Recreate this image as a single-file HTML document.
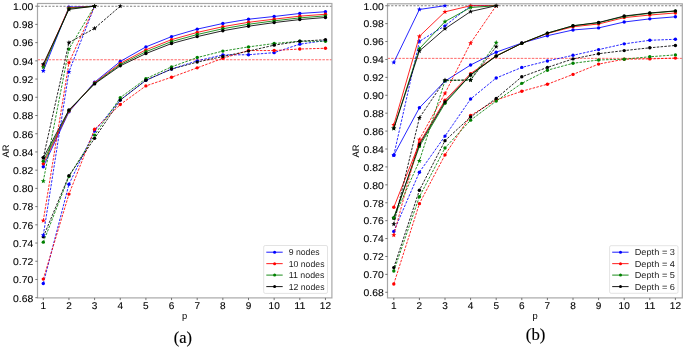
<!DOCTYPE html>
<html><head><meta charset="utf-8"><style>
html,body{margin:0;padding:0;background:#fff;}
body{width:685px;height:348px;overflow:hidden;}
svg{display:block;will-change:transform;}
.tk{font-family:"Liberation Sans",sans-serif;font-size:9.8px;fill:#000;stroke:#000;stroke-width:0.1px;text-rendering:geometricPrecision;}
.lab{font-family:"Liberation Sans",sans-serif;font-size:9.4px;fill:#000;text-rendering:geometricPrecision;}
.lg{font-family:"Liberation Sans",sans-serif;font-size:8.7px;fill:#1c1c1c;text-rendering:geometricPrecision;}
.cap{font-family:"Liberation Serif",serif;font-size:15.5px;fill:#000;stroke:#000;stroke-width:0.15px;}
</style></head><body>
<svg width="685" height="348" viewBox="0 0 685 348">
<rect width="685" height="348" fill="#fff"/>
<line x1="37.50" y1="59.75" x2="331.90" y2="59.75" stroke="#ff0000" stroke-width="0.8" stroke-dasharray="2.5 1.2" opacity="0.75"/>
<line x1="37.50" y1="6.18" x2="331.90" y2="6.18" stroke="#808080" stroke-width="1.1" stroke-dasharray="2.2 1.5"/>
<polyline points="43.30,283.49 68.95,184.28 94.60,130.99 120.25,100.01 145.90,80.34 171.55,69.04 197.20,60.84 222.85,54.92 248.50,54.74 274.15,52.64 299.80,44.17 325.45,40.52" fill="none" stroke="#0000ff" stroke-width="0.85" stroke-dasharray="2.5 1.3" stroke-linejoin="round"/>
<circle cx="43.30" cy="283.49" r="1.70" fill="#0000ff"/>
<circle cx="68.95" cy="184.28" r="1.70" fill="#0000ff"/>
<circle cx="94.60" cy="130.99" r="1.70" fill="#0000ff"/>
<circle cx="120.25" cy="100.01" r="1.70" fill="#0000ff"/>
<circle cx="145.90" cy="80.34" r="1.70" fill="#0000ff"/>
<circle cx="171.55" cy="69.04" r="1.70" fill="#0000ff"/>
<circle cx="197.20" cy="60.84" r="1.70" fill="#0000ff"/>
<circle cx="222.85" cy="54.92" r="1.70" fill="#0000ff"/>
<circle cx="248.50" cy="54.74" r="1.70" fill="#0000ff"/>
<circle cx="274.15" cy="52.64" r="1.70" fill="#0000ff"/>
<circle cx="299.80" cy="44.17" r="1.70" fill="#0000ff"/>
<circle cx="325.45" cy="40.52" r="1.70" fill="#0000ff"/>
<polyline points="43.30,279.12 68.95,194.12 94.60,129.26 120.25,104.57 145.90,85.89 171.55,77.24 197.20,67.85 222.85,58.29 248.50,50.55 274.15,50.55 299.80,49.00 325.45,48.27" fill="none" stroke="#ff0000" stroke-width="0.85" stroke-dasharray="2.5 1.3" stroke-linejoin="round"/>
<circle cx="43.30" cy="279.12" r="1.70" fill="#ff0000"/>
<circle cx="68.95" cy="194.12" r="1.70" fill="#ff0000"/>
<circle cx="94.60" cy="129.26" r="1.70" fill="#ff0000"/>
<circle cx="120.25" cy="104.57" r="1.70" fill="#ff0000"/>
<circle cx="145.90" cy="85.89" r="1.70" fill="#ff0000"/>
<circle cx="171.55" cy="77.24" r="1.70" fill="#ff0000"/>
<circle cx="197.20" cy="67.85" r="1.70" fill="#ff0000"/>
<circle cx="222.85" cy="58.29" r="1.70" fill="#ff0000"/>
<circle cx="248.50" cy="50.55" r="1.70" fill="#ff0000"/>
<circle cx="274.15" cy="50.55" r="1.70" fill="#ff0000"/>
<circle cx="299.80" cy="49.00" r="1.70" fill="#ff0000"/>
<circle cx="325.45" cy="48.27" r="1.70" fill="#ff0000"/>
<polyline points="43.30,242.13 68.95,176.54 94.60,135.09 120.25,97.64 145.90,78.70 171.55,66.85 197.20,57.56 222.85,51.09 248.50,46.90 274.15,43.53 299.80,41.25 325.45,41.25" fill="none" stroke="#008000" stroke-width="0.85" stroke-dasharray="2.5 1.3" stroke-linejoin="round"/>
<circle cx="43.30" cy="242.13" r="1.70" fill="#008000"/>
<circle cx="68.95" cy="176.54" r="1.70" fill="#008000"/>
<circle cx="94.60" cy="135.09" r="1.70" fill="#008000"/>
<circle cx="120.25" cy="97.64" r="1.70" fill="#008000"/>
<circle cx="145.90" cy="78.70" r="1.70" fill="#008000"/>
<circle cx="171.55" cy="66.85" r="1.70" fill="#008000"/>
<circle cx="197.20" cy="57.56" r="1.70" fill="#008000"/>
<circle cx="222.85" cy="51.09" r="1.70" fill="#008000"/>
<circle cx="248.50" cy="46.90" r="1.70" fill="#008000"/>
<circle cx="274.15" cy="43.53" r="1.70" fill="#008000"/>
<circle cx="299.80" cy="41.25" r="1.70" fill="#008000"/>
<circle cx="325.45" cy="41.25" r="1.70" fill="#008000"/>
<polyline points="43.30,236.85 68.95,175.63 94.60,138.37 120.25,100.10 145.90,80.24 171.55,69.04 197.20,62.12 222.85,56.47 248.50,51.09 274.15,45.17 299.80,41.25 325.45,39.70" fill="none" stroke="#000000" stroke-width="0.85" stroke-dasharray="2.5 1.3" stroke-linejoin="round"/>
<circle cx="43.30" cy="236.85" r="1.70" fill="#000000"/>
<circle cx="68.95" cy="175.63" r="1.70" fill="#000000"/>
<circle cx="94.60" cy="138.37" r="1.70" fill="#000000"/>
<circle cx="120.25" cy="100.10" r="1.70" fill="#000000"/>
<circle cx="145.90" cy="80.24" r="1.70" fill="#000000"/>
<circle cx="171.55" cy="69.04" r="1.70" fill="#000000"/>
<circle cx="197.20" cy="62.12" r="1.70" fill="#000000"/>
<circle cx="222.85" cy="56.47" r="1.70" fill="#000000"/>
<circle cx="248.50" cy="51.09" r="1.70" fill="#000000"/>
<circle cx="274.15" cy="45.17" r="1.70" fill="#000000"/>
<circle cx="299.80" cy="41.25" r="1.70" fill="#000000"/>
<circle cx="325.45" cy="39.70" r="1.70" fill="#000000"/>
<polyline points="43.30,166.70 68.95,111.86 94.60,82.16 120.25,61.48 145.90,46.90 171.55,36.61 197.20,29.14 222.85,23.49 248.50,19.21 274.15,16.47 299.80,13.47 325.45,11.74" fill="none" stroke="#0000ff" stroke-width="0.85" stroke-linejoin="round"/>
<circle cx="43.30" cy="166.70" r="1.70" fill="#0000ff"/>
<circle cx="68.95" cy="111.86" r="1.70" fill="#0000ff"/>
<circle cx="94.60" cy="82.16" r="1.70" fill="#0000ff"/>
<circle cx="120.25" cy="61.48" r="1.70" fill="#0000ff"/>
<circle cx="145.90" cy="46.90" r="1.70" fill="#0000ff"/>
<circle cx="171.55" cy="36.61" r="1.70" fill="#0000ff"/>
<circle cx="197.20" cy="29.14" r="1.70" fill="#0000ff"/>
<circle cx="222.85" cy="23.49" r="1.70" fill="#0000ff"/>
<circle cx="248.50" cy="19.21" r="1.70" fill="#0000ff"/>
<circle cx="274.15" cy="16.47" r="1.70" fill="#0000ff"/>
<circle cx="299.80" cy="13.47" r="1.70" fill="#0000ff"/>
<circle cx="325.45" cy="11.74" r="1.70" fill="#0000ff"/>
<polyline points="43.30,163.78 68.95,111.01 94.60,82.92 120.25,63.40 145.90,49.83 171.55,39.65 197.20,32.42 222.85,26.70 248.50,22.29 274.15,19.16 299.80,16.15 325.45,14.26" fill="none" stroke="#ff0000" stroke-width="0.85" stroke-linejoin="round"/>
<circle cx="43.30" cy="163.78" r="1.70" fill="#ff0000"/>
<circle cx="68.95" cy="111.01" r="1.70" fill="#ff0000"/>
<circle cx="94.60" cy="82.92" r="1.70" fill="#ff0000"/>
<circle cx="120.25" cy="63.40" r="1.70" fill="#ff0000"/>
<circle cx="145.90" cy="49.83" r="1.70" fill="#ff0000"/>
<circle cx="171.55" cy="39.65" r="1.70" fill="#ff0000"/>
<circle cx="197.20" cy="32.42" r="1.70" fill="#ff0000"/>
<circle cx="222.85" cy="26.70" r="1.70" fill="#ff0000"/>
<circle cx="248.50" cy="22.29" r="1.70" fill="#ff0000"/>
<circle cx="274.15" cy="19.16" r="1.70" fill="#ff0000"/>
<circle cx="299.80" cy="16.15" r="1.70" fill="#ff0000"/>
<circle cx="325.45" cy="14.26" r="1.70" fill="#ff0000"/>
<polyline points="43.30,161.14 68.95,110.48 94.60,83.40 120.25,64.63 145.90,51.69 171.55,41.59 197.20,34.52 222.85,28.74 248.50,24.26 274.15,20.87 299.80,17.86 325.45,15.87" fill="none" stroke="#008000" stroke-width="0.85" stroke-linejoin="round"/>
<circle cx="43.30" cy="161.14" r="1.70" fill="#008000"/>
<circle cx="68.95" cy="110.48" r="1.70" fill="#008000"/>
<circle cx="94.60" cy="83.40" r="1.70" fill="#008000"/>
<circle cx="120.25" cy="64.63" r="1.70" fill="#008000"/>
<circle cx="145.90" cy="51.69" r="1.70" fill="#008000"/>
<circle cx="171.55" cy="41.59" r="1.70" fill="#008000"/>
<circle cx="197.20" cy="34.52" r="1.70" fill="#008000"/>
<circle cx="222.85" cy="28.74" r="1.70" fill="#008000"/>
<circle cx="248.50" cy="24.26" r="1.70" fill="#008000"/>
<circle cx="274.15" cy="20.87" r="1.70" fill="#008000"/>
<circle cx="299.80" cy="17.86" r="1.70" fill="#008000"/>
<circle cx="325.45" cy="15.87" r="1.70" fill="#008000"/>
<polyline points="43.30,157.68 68.95,109.94 94.60,83.89 120.25,65.85 145.90,53.55 171.55,43.53 197.20,36.61 222.85,30.78 248.50,26.22 274.15,22.58 299.80,19.57 325.45,17.48" fill="none" stroke="#000000" stroke-width="0.85" stroke-linejoin="round"/>
<circle cx="43.30" cy="157.68" r="1.70" fill="#000000"/>
<circle cx="68.95" cy="109.94" r="1.70" fill="#000000"/>
<circle cx="94.60" cy="83.89" r="1.70" fill="#000000"/>
<circle cx="120.25" cy="65.85" r="1.70" fill="#000000"/>
<circle cx="145.90" cy="53.55" r="1.70" fill="#000000"/>
<circle cx="171.55" cy="43.53" r="1.70" fill="#000000"/>
<circle cx="197.20" cy="36.61" r="1.70" fill="#000000"/>
<circle cx="222.85" cy="30.78" r="1.70" fill="#000000"/>
<circle cx="248.50" cy="26.22" r="1.70" fill="#000000"/>
<circle cx="274.15" cy="22.58" r="1.70" fill="#000000"/>
<circle cx="299.80" cy="19.57" r="1.70" fill="#000000"/>
<circle cx="325.45" cy="17.48" r="1.70" fill="#000000"/>
<polyline points="43.30,235.21 68.95,71.77 94.60,6.18" fill="none" stroke="#0000ff" stroke-width="0.85" stroke-dasharray="2.5 1.3" stroke-linejoin="round"/>
<polygon points="43.30,232.61 43.94,234.32 45.77,234.40 44.34,235.54 44.83,237.31 43.30,236.30 41.77,237.31 42.26,235.54 40.83,234.40 42.66,234.32" fill="#0000ff"/>
<polygon points="68.95,69.17 69.59,70.89 71.42,70.97 69.99,72.11 70.48,73.88 68.95,72.86 67.42,73.88 67.91,72.11 66.48,70.97 68.31,70.89" fill="#0000ff"/>
<polygon points="94.60,3.58 95.24,5.30 97.07,5.38 95.64,6.52 96.13,8.28 94.60,7.27 93.07,8.28 93.56,6.52 92.13,5.38 93.96,5.30" fill="#0000ff"/>
<polyline points="43.30,220.63 68.95,62.66 94.60,6.18" fill="none" stroke="#ff0000" stroke-width="0.85" stroke-dasharray="2.5 1.3" stroke-linejoin="round"/>
<polygon points="43.30,218.03 43.94,219.75 45.77,219.83 44.34,220.97 44.83,222.73 43.30,221.72 41.77,222.73 42.26,220.97 40.83,219.83 42.66,219.75" fill="#ff0000"/>
<polygon points="68.95,60.06 69.59,61.78 71.42,61.86 69.99,63.00 70.48,64.77 68.95,63.75 67.42,64.77 67.91,63.00 66.48,61.86 68.31,61.78" fill="#ff0000"/>
<polygon points="94.60,3.58 95.24,5.30 97.07,5.38 95.64,6.52 96.13,8.28 94.60,7.27 93.07,8.28 93.56,6.52 92.13,5.38 93.96,5.30" fill="#ff0000"/>
<polyline points="43.30,181.09 68.95,49.09 94.60,6.18" fill="none" stroke="#008000" stroke-width="0.85" stroke-dasharray="2.5 1.3" stroke-linejoin="round"/>
<polygon points="43.30,178.49 43.94,180.21 45.77,180.29 44.34,181.43 44.83,183.20 43.30,182.18 41.77,183.20 42.26,181.43 40.83,180.29 42.66,180.21" fill="#008000"/>
<polygon points="68.95,46.49 69.59,48.20 71.42,48.28 69.99,49.43 70.48,51.19 68.95,50.18 67.42,51.19 67.91,49.43 66.48,48.28 68.31,48.20" fill="#008000"/>
<polygon points="94.60,3.58 95.24,5.30 97.07,5.38 95.64,6.52 96.13,8.28 94.60,7.27 93.07,8.28 93.56,6.52 92.13,5.38 93.96,5.30" fill="#008000"/>
<polyline points="43.30,157.68 68.95,42.62 94.60,28.32 120.25,6.18" fill="none" stroke="#000000" stroke-width="0.85" stroke-dasharray="2.5 1.3" stroke-linejoin="round"/>
<polygon points="43.30,155.08 43.94,156.80 45.77,156.88 44.34,158.02 44.83,159.78 43.30,158.77 41.77,159.78 42.26,158.02 40.83,156.88 42.66,156.80" fill="#000000"/>
<polygon points="68.95,40.02 69.59,41.74 71.42,41.82 69.99,42.96 70.48,44.72 68.95,43.71 67.42,44.72 67.91,42.96 66.48,41.82 68.31,41.74" fill="#000000"/>
<polygon points="94.60,25.72 95.24,27.43 97.07,27.51 95.64,28.65 96.13,30.42 94.60,29.41 93.07,30.42 93.56,28.65 92.13,27.51 93.96,27.43" fill="#000000"/>
<polygon points="120.25,3.58 120.89,5.30 122.72,5.38 121.29,6.52 121.78,8.28 120.25,7.27 118.72,8.28 119.21,6.52 117.78,5.38 119.61,5.30" fill="#000000"/>
<polyline points="43.30,70.86 68.95,7.18 94.60,6.18" fill="none" stroke="#0000ff" stroke-width="0.85" stroke-linejoin="round"/>
<polygon points="43.30,68.26 43.94,69.98 45.77,70.06 44.34,71.20 44.83,72.96 43.30,71.95 41.77,72.96 42.26,71.20 40.83,70.06 42.66,69.98" fill="#0000ff"/>
<polygon points="68.95,4.58 69.59,6.30 71.42,6.38 69.99,7.52 70.48,9.29 68.95,8.27 67.42,9.29 67.91,7.52 66.48,6.38 68.31,6.30" fill="#0000ff"/>
<polygon points="94.60,3.58 95.24,5.30 97.07,5.38 95.64,6.52 96.13,8.28 94.60,7.27 93.07,8.28 93.56,6.52 92.13,5.38 93.96,5.30" fill="#0000ff"/>
<polyline points="43.30,65.39 68.95,7.82 94.60,6.18" fill="none" stroke="#ff0000" stroke-width="0.85" stroke-linejoin="round"/>
<polygon points="43.30,62.79 43.94,64.51 45.77,64.59 44.34,65.73 44.83,67.50 43.30,66.49 41.77,67.50 42.26,65.73 40.83,64.59 42.66,64.51" fill="#ff0000"/>
<polygon points="68.95,5.22 69.59,6.94 71.42,7.02 69.99,8.16 70.48,9.92 68.95,8.91 67.42,9.92 67.91,8.16 66.48,7.02 68.31,6.94" fill="#ff0000"/>
<polygon points="94.60,3.58 95.24,5.30 97.07,5.38 95.64,6.52 96.13,8.28 94.60,7.27 93.07,8.28 93.56,6.52 92.13,5.38 93.96,5.30" fill="#ff0000"/>
<polyline points="43.30,67.22 68.95,8.46 94.60,6.18" fill="none" stroke="#008000" stroke-width="0.85" stroke-linejoin="round"/>
<polygon points="43.30,64.62 43.94,66.33 45.77,66.41 44.34,67.55 44.83,69.32 43.30,68.31 41.77,69.32 42.26,67.55 40.83,66.41 42.66,66.33" fill="#008000"/>
<polygon points="68.95,5.86 69.59,7.57 71.42,7.65 69.99,8.79 70.48,10.56 68.95,9.55 67.42,10.56 67.91,8.79 66.48,7.65 68.31,7.57" fill="#008000"/>
<polygon points="94.60,3.58 95.24,5.30 97.07,5.38 95.64,6.52 96.13,8.28 94.60,7.27 93.07,8.28 93.56,6.52 92.13,5.38 93.96,5.30" fill="#008000"/>
<polyline points="43.30,64.03 68.95,9.37 94.60,6.18" fill="none" stroke="#000000" stroke-width="0.85" stroke-linejoin="round"/>
<polygon points="43.30,61.43 43.94,63.15 45.77,63.23 44.34,64.37 44.83,66.13 43.30,65.12 41.77,66.13 42.26,64.37 40.83,63.23 42.66,63.15" fill="#000000"/>
<polygon points="68.95,6.77 69.59,8.49 71.42,8.57 69.99,9.71 70.48,11.47 68.95,10.46 67.42,11.47 67.91,9.71 66.48,8.57 68.31,8.49" fill="#000000"/>
<polygon points="94.60,3.58 95.24,5.30 97.07,5.38 95.64,6.52 96.13,8.28 94.60,7.27 93.07,8.28 93.56,6.52 92.13,5.38 93.96,5.30" fill="#000000"/>
<rect x="37.50" y="3.50" width="294.40" height="294.40" fill="none" stroke="#a8a8a8" stroke-width="1.2"/>
<line x1="35.30" y1="297.70" x2="37.50" y2="297.70" stroke="#555" stroke-width="0.8"/>
<text x="33.30" y="301.50" text-anchor="end" class="tk" textLength="20.2" lengthAdjust="spacingAndGlyphs">0.68</text>
<line x1="35.30" y1="279.48" x2="37.50" y2="279.48" stroke="#555" stroke-width="0.8"/>
<text x="33.30" y="283.28" text-anchor="end" class="tk" textLength="20.2" lengthAdjust="spacingAndGlyphs">0.70</text>
<line x1="35.30" y1="261.26" x2="37.50" y2="261.26" stroke="#555" stroke-width="0.8"/>
<text x="33.30" y="265.06" text-anchor="end" class="tk" textLength="20.2" lengthAdjust="spacingAndGlyphs">0.72</text>
<line x1="35.30" y1="243.04" x2="37.50" y2="243.04" stroke="#555" stroke-width="0.8"/>
<text x="33.30" y="246.84" text-anchor="end" class="tk" textLength="20.2" lengthAdjust="spacingAndGlyphs">0.74</text>
<line x1="35.30" y1="224.82" x2="37.50" y2="224.82" stroke="#555" stroke-width="0.8"/>
<text x="33.30" y="228.62" text-anchor="end" class="tk" textLength="20.2" lengthAdjust="spacingAndGlyphs">0.76</text>
<line x1="35.30" y1="206.60" x2="37.50" y2="206.60" stroke="#555" stroke-width="0.8"/>
<text x="33.30" y="210.40" text-anchor="end" class="tk" textLength="20.2" lengthAdjust="spacingAndGlyphs">0.78</text>
<line x1="35.30" y1="188.38" x2="37.50" y2="188.38" stroke="#555" stroke-width="0.8"/>
<text x="33.30" y="192.18" text-anchor="end" class="tk" textLength="20.2" lengthAdjust="spacingAndGlyphs">0.80</text>
<line x1="35.30" y1="170.16" x2="37.50" y2="170.16" stroke="#555" stroke-width="0.8"/>
<text x="33.30" y="173.96" text-anchor="end" class="tk" textLength="20.2" lengthAdjust="spacingAndGlyphs">0.82</text>
<line x1="35.30" y1="151.94" x2="37.50" y2="151.94" stroke="#555" stroke-width="0.8"/>
<text x="33.30" y="155.74" text-anchor="end" class="tk" textLength="20.2" lengthAdjust="spacingAndGlyphs">0.84</text>
<line x1="35.30" y1="133.72" x2="37.50" y2="133.72" stroke="#555" stroke-width="0.8"/>
<text x="33.30" y="137.52" text-anchor="end" class="tk" textLength="20.2" lengthAdjust="spacingAndGlyphs">0.86</text>
<line x1="35.30" y1="115.50" x2="37.50" y2="115.50" stroke="#555" stroke-width="0.8"/>
<text x="33.30" y="119.30" text-anchor="end" class="tk" textLength="20.2" lengthAdjust="spacingAndGlyphs">0.88</text>
<line x1="35.30" y1="97.28" x2="37.50" y2="97.28" stroke="#555" stroke-width="0.8"/>
<text x="33.30" y="101.08" text-anchor="end" class="tk" textLength="20.2" lengthAdjust="spacingAndGlyphs">0.90</text>
<line x1="35.30" y1="79.06" x2="37.50" y2="79.06" stroke="#555" stroke-width="0.8"/>
<text x="33.30" y="82.86" text-anchor="end" class="tk" textLength="20.2" lengthAdjust="spacingAndGlyphs">0.92</text>
<line x1="35.30" y1="60.84" x2="37.50" y2="60.84" stroke="#555" stroke-width="0.8"/>
<text x="33.30" y="64.64" text-anchor="end" class="tk" textLength="20.2" lengthAdjust="spacingAndGlyphs">0.94</text>
<line x1="35.30" y1="42.62" x2="37.50" y2="42.62" stroke="#555" stroke-width="0.8"/>
<text x="33.30" y="46.42" text-anchor="end" class="tk" textLength="20.2" lengthAdjust="spacingAndGlyphs">0.96</text>
<line x1="35.30" y1="24.40" x2="37.50" y2="24.40" stroke="#555" stroke-width="0.8"/>
<text x="33.30" y="28.20" text-anchor="end" class="tk" textLength="20.2" lengthAdjust="spacingAndGlyphs">0.98</text>
<line x1="35.30" y1="6.18" x2="37.50" y2="6.18" stroke="#555" stroke-width="0.8"/>
<text x="33.30" y="9.98" text-anchor="end" class="tk" textLength="20.2" lengthAdjust="spacingAndGlyphs">1.00</text>
<line x1="43.30" y1="297.90" x2="43.30" y2="300.10" stroke="#555" stroke-width="0.8"/>
<text x="43.30" y="309.0" text-anchor="middle" class="tk" textLength="5.6" lengthAdjust="spacingAndGlyphs">1</text>
<line x1="68.95" y1="297.90" x2="68.95" y2="300.10" stroke="#555" stroke-width="0.8"/>
<text x="68.95" y="309.0" text-anchor="middle" class="tk" textLength="5.6" lengthAdjust="spacingAndGlyphs">2</text>
<line x1="94.60" y1="297.90" x2="94.60" y2="300.10" stroke="#555" stroke-width="0.8"/>
<text x="94.60" y="309.0" text-anchor="middle" class="tk" textLength="5.6" lengthAdjust="spacingAndGlyphs">3</text>
<line x1="120.25" y1="297.90" x2="120.25" y2="300.10" stroke="#555" stroke-width="0.8"/>
<text x="120.25" y="309.0" text-anchor="middle" class="tk" textLength="5.6" lengthAdjust="spacingAndGlyphs">4</text>
<line x1="145.90" y1="297.90" x2="145.90" y2="300.10" stroke="#555" stroke-width="0.8"/>
<text x="145.90" y="309.0" text-anchor="middle" class="tk" textLength="5.6" lengthAdjust="spacingAndGlyphs">5</text>
<line x1="171.55" y1="297.90" x2="171.55" y2="300.10" stroke="#555" stroke-width="0.8"/>
<text x="171.55" y="309.0" text-anchor="middle" class="tk" textLength="5.6" lengthAdjust="spacingAndGlyphs">6</text>
<line x1="197.20" y1="297.90" x2="197.20" y2="300.10" stroke="#555" stroke-width="0.8"/>
<text x="197.20" y="309.0" text-anchor="middle" class="tk" textLength="5.6" lengthAdjust="spacingAndGlyphs">7</text>
<line x1="222.85" y1="297.90" x2="222.85" y2="300.10" stroke="#555" stroke-width="0.8"/>
<text x="222.85" y="309.0" text-anchor="middle" class="tk" textLength="5.6" lengthAdjust="spacingAndGlyphs">8</text>
<line x1="248.50" y1="297.90" x2="248.50" y2="300.10" stroke="#555" stroke-width="0.8"/>
<text x="248.50" y="309.0" text-anchor="middle" class="tk" textLength="5.6" lengthAdjust="spacingAndGlyphs">9</text>
<line x1="274.15" y1="297.90" x2="274.15" y2="300.10" stroke="#555" stroke-width="0.8"/>
<text x="274.15" y="309.0" text-anchor="middle" class="tk" textLength="11.2" lengthAdjust="spacingAndGlyphs">10</text>
<line x1="299.80" y1="297.90" x2="299.80" y2="300.10" stroke="#555" stroke-width="0.8"/>
<text x="299.80" y="309.0" text-anchor="middle" class="tk" textLength="11.2" lengthAdjust="spacingAndGlyphs">11</text>
<line x1="325.45" y1="297.90" x2="325.45" y2="300.10" stroke="#555" stroke-width="0.8"/>
<text x="325.45" y="309.0" text-anchor="middle" class="tk" textLength="11.2" lengthAdjust="spacingAndGlyphs">12</text>
<text x="184.70" y="319.0" text-anchor="middle" class="lab">p</text>
<text transform="translate(9.00,151) rotate(-90)" text-anchor="middle" class="lab">AR</text>
<text x="182.90" y="342.50" text-anchor="middle" class="cap" style="font-size:16.40px">(a)</text>
<rect x="263.70" y="245.50" width="63.80" height="47.90" rx="1.5" fill="#fff" fill-opacity="0.85" stroke="#dcdcdc" stroke-width="0.8"/>
<line x1="266.30" y1="252.20" x2="282.70" y2="252.20" stroke="#0000ff" stroke-width="0.9"/>
<circle cx="274.60" cy="252.20" r="1.50" fill="#0000ff"/>
<text x="288.70" y="255.20" class="lg" textLength="30.9" lengthAdjust="spacingAndGlyphs">9 nodes</text>
<line x1="266.30" y1="263.65" x2="282.70" y2="263.65" stroke="#ff0000" stroke-width="0.9"/>
<circle cx="274.60" cy="263.65" r="1.50" fill="#ff0000"/>
<text x="288.70" y="266.65" class="lg" textLength="35.8" lengthAdjust="spacingAndGlyphs">10 nodes</text>
<line x1="266.30" y1="275.10" x2="282.70" y2="275.10" stroke="#008000" stroke-width="0.9"/>
<circle cx="274.60" cy="275.10" r="1.50" fill="#008000"/>
<text x="288.70" y="278.10" class="lg" textLength="35.8" lengthAdjust="spacingAndGlyphs">11 nodes</text>
<line x1="266.30" y1="286.60" x2="282.70" y2="286.60" stroke="#000000" stroke-width="0.9"/>
<circle cx="274.60" cy="286.60" r="1.50" fill="#000000"/>
<text x="288.70" y="289.60" class="lg" textLength="35.8" lengthAdjust="spacingAndGlyphs">12 nodes</text>
<line x1="387.50" y1="58.37" x2="682.30" y2="58.37" stroke="#ff0000" stroke-width="0.8" stroke-dasharray="2.5 1.2" opacity="0.75"/>
<line x1="387.50" y1="5.71" x2="682.30" y2="5.71" stroke="#808080" stroke-width="1.1" stroke-dasharray="2.2 1.5"/>
<polyline points="393.80,231.40 419.40,172.20 445.00,136.11 470.60,99.03 496.20,77.98 521.80,67.41 547.40,60.97 573.00,55.32 598.60,49.59 624.20,43.86 649.80,40.28 675.40,39.29" fill="none" stroke="#0000ff" stroke-width="0.85" stroke-dasharray="2.5 1.3" stroke-linejoin="round"/>
<circle cx="393.80" cy="231.40" r="1.70" fill="#0000ff"/>
<circle cx="419.40" cy="172.20" r="1.70" fill="#0000ff"/>
<circle cx="445.00" cy="136.11" r="1.70" fill="#0000ff"/>
<circle cx="470.60" cy="99.03" r="1.70" fill="#0000ff"/>
<circle cx="496.20" cy="77.98" r="1.70" fill="#0000ff"/>
<circle cx="521.80" cy="67.41" r="1.70" fill="#0000ff"/>
<circle cx="547.40" cy="60.97" r="1.70" fill="#0000ff"/>
<circle cx="573.00" cy="55.32" r="1.70" fill="#0000ff"/>
<circle cx="598.60" cy="49.59" r="1.70" fill="#0000ff"/>
<circle cx="624.20" cy="43.86" r="1.70" fill="#0000ff"/>
<circle cx="649.80" cy="40.28" r="1.70" fill="#0000ff"/>
<circle cx="675.40" cy="39.29" r="1.70" fill="#0000ff"/>
<polyline points="393.80,283.97 419.40,203.64 445.00,154.91 470.60,115.51 496.20,100.01 521.80,91.24 547.40,84.25 573.00,74.40 598.60,64.10 624.20,59.18 649.80,58.91 675.40,58.10" fill="none" stroke="#ff0000" stroke-width="0.85" stroke-dasharray="2.5 1.3" stroke-linejoin="round"/>
<circle cx="393.80" cy="283.97" r="1.70" fill="#ff0000"/>
<circle cx="419.40" cy="203.64" r="1.70" fill="#ff0000"/>
<circle cx="445.00" cy="154.91" r="1.70" fill="#ff0000"/>
<circle cx="470.60" cy="115.51" r="1.70" fill="#ff0000"/>
<circle cx="496.20" cy="100.01" r="1.70" fill="#ff0000"/>
<circle cx="521.80" cy="91.24" r="1.70" fill="#ff0000"/>
<circle cx="547.40" cy="84.25" r="1.70" fill="#ff0000"/>
<circle cx="573.00" cy="74.40" r="1.70" fill="#ff0000"/>
<circle cx="598.60" cy="64.10" r="1.70" fill="#ff0000"/>
<circle cx="624.20" cy="59.18" r="1.70" fill="#ff0000"/>
<circle cx="649.80" cy="58.91" r="1.70" fill="#ff0000"/>
<circle cx="675.40" cy="58.10" r="1.70" fill="#ff0000"/>
<polyline points="393.80,270.98 419.40,196.74 445.00,148.02 470.60,120.17 496.20,101.09 521.80,83.36 547.40,70.19 573.00,63.30 598.60,59.98 624.20,59.18 649.80,56.76 675.40,54.88" fill="none" stroke="#008000" stroke-width="0.85" stroke-dasharray="2.5 1.3" stroke-linejoin="round"/>
<circle cx="393.80" cy="270.98" r="1.70" fill="#008000"/>
<circle cx="419.40" cy="196.74" r="1.70" fill="#008000"/>
<circle cx="445.00" cy="148.02" r="1.70" fill="#008000"/>
<circle cx="470.60" cy="120.17" r="1.70" fill="#008000"/>
<circle cx="496.20" cy="101.09" r="1.70" fill="#008000"/>
<circle cx="521.80" cy="83.36" r="1.70" fill="#008000"/>
<circle cx="547.40" cy="70.19" r="1.70" fill="#008000"/>
<circle cx="573.00" cy="63.30" r="1.70" fill="#008000"/>
<circle cx="598.60" cy="59.98" r="1.70" fill="#008000"/>
<circle cx="624.20" cy="59.18" r="1.70" fill="#008000"/>
<circle cx="649.80" cy="56.76" r="1.70" fill="#008000"/>
<circle cx="675.40" cy="54.88" r="1.70" fill="#008000"/>
<polyline points="393.80,267.58 419.40,190.29 445.00,140.67 470.60,117.03 496.20,98.40 521.80,76.73 547.40,67.41 573.00,58.91 598.60,53.71 624.20,50.58 649.80,47.80 675.40,45.47" fill="none" stroke="#000000" stroke-width="0.85" stroke-dasharray="2.5 1.3" stroke-linejoin="round"/>
<circle cx="393.80" cy="267.58" r="1.70" fill="#000000"/>
<circle cx="419.40" cy="190.29" r="1.70" fill="#000000"/>
<circle cx="445.00" cy="140.67" r="1.70" fill="#000000"/>
<circle cx="470.60" cy="117.03" r="1.70" fill="#000000"/>
<circle cx="496.20" cy="98.40" r="1.70" fill="#000000"/>
<circle cx="521.80" cy="76.73" r="1.70" fill="#000000"/>
<circle cx="547.40" cy="67.41" r="1.70" fill="#000000"/>
<circle cx="573.00" cy="58.91" r="1.70" fill="#000000"/>
<circle cx="598.60" cy="53.71" r="1.70" fill="#000000"/>
<circle cx="624.20" cy="50.58" r="1.70" fill="#000000"/>
<circle cx="649.80" cy="47.80" r="1.70" fill="#000000"/>
<circle cx="675.40" cy="45.47" r="1.70" fill="#000000"/>
<polyline points="393.80,155.18 419.40,107.81 445.00,81.12 470.60,65.00 496.20,52.19 521.80,43.05 547.40,35.71 573.00,29.98 598.60,27.92 624.20,22.01 649.80,18.87 675.40,16.81" fill="none" stroke="#0000ff" stroke-width="0.85" stroke-linejoin="round"/>
<circle cx="393.80" cy="155.18" r="1.70" fill="#0000ff"/>
<circle cx="419.40" cy="107.81" r="1.70" fill="#0000ff"/>
<circle cx="445.00" cy="81.12" r="1.70" fill="#0000ff"/>
<circle cx="470.60" cy="65.00" r="1.70" fill="#0000ff"/>
<circle cx="496.20" cy="52.19" r="1.70" fill="#0000ff"/>
<circle cx="521.80" cy="43.05" r="1.70" fill="#0000ff"/>
<circle cx="547.40" cy="35.71" r="1.70" fill="#0000ff"/>
<circle cx="573.00" cy="29.98" r="1.70" fill="#0000ff"/>
<circle cx="598.60" cy="27.92" r="1.70" fill="#0000ff"/>
<circle cx="624.20" cy="22.01" r="1.70" fill="#0000ff"/>
<circle cx="649.80" cy="18.87" r="1.70" fill="#0000ff"/>
<circle cx="675.40" cy="16.81" r="1.70" fill="#0000ff"/>
<polyline points="393.80,207.31 419.40,143.00 445.00,100.28 470.60,73.59 496.20,55.86 521.80,43.32 547.40,33.47 573.00,26.75 598.60,23.98 624.20,17.62 649.80,15.02 675.40,12.96" fill="none" stroke="#ff0000" stroke-width="0.85" stroke-linejoin="round"/>
<circle cx="393.80" cy="207.31" r="1.70" fill="#ff0000"/>
<circle cx="419.40" cy="143.00" r="1.70" fill="#ff0000"/>
<circle cx="445.00" cy="100.28" r="1.70" fill="#ff0000"/>
<circle cx="470.60" cy="73.59" r="1.70" fill="#ff0000"/>
<circle cx="496.20" cy="55.86" r="1.70" fill="#ff0000"/>
<circle cx="521.80" cy="43.32" r="1.70" fill="#ff0000"/>
<circle cx="547.40" cy="33.47" r="1.70" fill="#ff0000"/>
<circle cx="573.00" cy="26.75" r="1.70" fill="#ff0000"/>
<circle cx="598.60" cy="23.98" r="1.70" fill="#ff0000"/>
<circle cx="624.20" cy="17.62" r="1.70" fill="#ff0000"/>
<circle cx="649.80" cy="15.02" r="1.70" fill="#ff0000"/>
<circle cx="675.40" cy="12.96" r="1.70" fill="#ff0000"/>
<polyline points="393.80,217.97 419.40,146.41 445.00,103.33 470.60,74.94 496.20,55.86 521.80,43.32 547.40,33.11 573.00,25.77 598.60,22.72 624.20,16.46 649.80,13.32 675.40,11.08" fill="none" stroke="#008000" stroke-width="0.85" stroke-linejoin="round"/>
<circle cx="393.80" cy="217.97" r="1.70" fill="#008000"/>
<circle cx="419.40" cy="146.41" r="1.70" fill="#008000"/>
<circle cx="445.00" cy="103.33" r="1.70" fill="#008000"/>
<circle cx="470.60" cy="74.94" r="1.70" fill="#008000"/>
<circle cx="496.20" cy="55.86" r="1.70" fill="#008000"/>
<circle cx="521.80" cy="43.32" r="1.70" fill="#008000"/>
<circle cx="547.40" cy="33.11" r="1.70" fill="#008000"/>
<circle cx="573.00" cy="25.77" r="1.70" fill="#008000"/>
<circle cx="598.60" cy="22.72" r="1.70" fill="#008000"/>
<circle cx="624.20" cy="16.46" r="1.70" fill="#008000"/>
<circle cx="649.80" cy="13.32" r="1.70" fill="#008000"/>
<circle cx="675.40" cy="11.08" r="1.70" fill="#008000"/>
<polyline points="393.80,217.97 419.40,144.53 445.00,101.90 470.60,74.94 496.20,56.13 521.80,43.32 547.40,33.11 573.00,25.77 598.60,22.46 624.20,16.01 649.80,12.96 675.40,10.90" fill="none" stroke="#000000" stroke-width="0.85" stroke-linejoin="round"/>
<circle cx="393.80" cy="217.97" r="1.70" fill="#000000"/>
<circle cx="419.40" cy="144.53" r="1.70" fill="#000000"/>
<circle cx="445.00" cy="101.90" r="1.70" fill="#000000"/>
<circle cx="470.60" cy="74.94" r="1.70" fill="#000000"/>
<circle cx="496.20" cy="56.13" r="1.70" fill="#000000"/>
<circle cx="521.80" cy="43.32" r="1.70" fill="#000000"/>
<circle cx="547.40" cy="33.11" r="1.70" fill="#000000"/>
<circle cx="573.00" cy="25.77" r="1.70" fill="#000000"/>
<circle cx="598.60" cy="22.46" r="1.70" fill="#000000"/>
<circle cx="624.20" cy="16.01" r="1.70" fill="#000000"/>
<circle cx="649.80" cy="12.96" r="1.70" fill="#000000"/>
<circle cx="675.40" cy="10.90" r="1.70" fill="#000000"/>
<polyline points="393.80,155.18 419.40,41.35 445.00,25.77 470.60,5.71 496.20,5.71" fill="none" stroke="#0000ff" stroke-width="0.85" stroke-dasharray="2.5 1.3" stroke-linejoin="round"/>
<polygon points="393.80,152.58 394.44,154.30 396.27,154.38 394.84,155.52 395.33,157.29 393.80,156.28 392.27,157.29 392.76,155.52 391.33,154.38 393.16,154.30" fill="#0000ff"/>
<polygon points="419.40,38.75 420.04,40.47 421.87,40.55 420.44,41.69 420.93,43.46 419.40,42.44 417.87,43.46 418.36,41.69 416.93,40.55 418.76,40.47" fill="#0000ff"/>
<polygon points="445.00,23.17 445.64,24.89 447.47,24.97 446.04,26.11 446.53,27.87 445.00,26.86 443.47,27.87 443.96,26.11 442.53,24.97 444.36,24.89" fill="#0000ff"/>
<polygon points="470.60,3.11 471.24,4.82 473.07,4.90 471.64,6.05 472.13,7.81 470.60,6.80 469.07,7.81 469.56,6.05 468.13,4.90 469.96,4.82" fill="#0000ff"/>
<polygon points="496.20,3.11 496.84,4.82 498.67,4.90 497.24,6.05 497.73,7.81 496.20,6.80 494.67,7.81 495.16,6.05 493.73,4.90 495.56,4.82" fill="#0000ff"/>
<polyline points="393.80,235.16 419.40,139.51 445.00,93.30 470.60,43.05 496.20,5.71" fill="none" stroke="#ff0000" stroke-width="0.85" stroke-dasharray="2.5 1.3" stroke-linejoin="round"/>
<polygon points="393.80,232.56 394.44,234.28 396.27,234.36 394.84,235.50 395.33,237.26 393.80,236.25 392.27,237.26 392.76,235.50 391.33,234.36 393.16,234.28" fill="#ff0000"/>
<polygon points="419.40,136.91 420.04,138.63 421.87,138.71 420.44,139.85 420.93,141.61 419.40,140.60 417.87,141.61 418.36,139.85 416.93,138.71 418.76,138.63" fill="#ff0000"/>
<polygon points="445.00,90.70 445.64,92.41 447.47,92.49 446.04,93.64 446.53,95.40 445.00,94.39 443.47,95.40 443.96,93.64 442.53,92.49 444.36,92.41" fill="#ff0000"/>
<polygon points="470.60,40.45 471.24,42.17 473.07,42.25 471.64,43.39 472.13,45.16 470.60,44.15 469.07,45.16 469.56,43.39 468.13,42.25 469.96,42.17" fill="#ff0000"/>
<polygon points="496.20,3.11 496.84,4.82 498.67,4.90 497.24,6.05 497.73,7.81 496.20,6.80 494.67,7.81 495.16,6.05 493.73,4.90 495.56,4.82" fill="#ff0000"/>
<polyline points="393.80,217.97 419.40,160.92 445.00,80.76 470.60,79.86 496.20,42.70" fill="none" stroke="#008000" stroke-width="0.85" stroke-dasharray="2.5 1.3" stroke-linejoin="round"/>
<polygon points="393.80,215.37 394.44,217.08 396.27,217.16 394.84,218.30 395.33,220.07 393.80,219.06 392.27,220.07 392.76,218.30 391.33,217.16 393.16,217.08" fill="#008000"/>
<polygon points="419.40,158.32 420.04,160.03 421.87,160.11 420.44,161.25 420.93,163.02 419.40,162.01 417.87,163.02 418.36,161.25 416.93,160.11 418.76,160.03" fill="#008000"/>
<polygon points="445.00,78.16 445.64,79.88 447.47,79.96 446.04,81.10 446.53,82.86 445.00,81.85 443.47,82.86 443.96,81.10 442.53,79.96 444.36,79.88" fill="#008000"/>
<polygon points="470.60,77.26 471.24,78.98 473.07,79.06 471.64,80.20 472.13,81.97 470.60,80.96 469.07,81.97 469.56,80.20 468.13,79.06 469.96,78.98" fill="#008000"/>
<polygon points="496.20,40.10 496.84,41.81 498.67,41.89 497.24,43.03 497.73,44.80 496.20,43.79 494.67,44.80 495.16,43.03 493.73,41.89 495.56,41.81" fill="#008000"/>
<polyline points="393.80,224.06 419.40,117.84 445.00,80.13 470.60,80.13 496.20,46.55" fill="none" stroke="#000000" stroke-width="0.85" stroke-dasharray="2.5 1.3" stroke-linejoin="round"/>
<polygon points="393.80,221.46 394.44,223.17 396.27,223.25 394.84,224.39 395.33,226.16 393.80,225.15 392.27,226.16 392.76,224.39 391.33,223.25 393.16,223.17" fill="#000000"/>
<polygon points="419.40,115.24 420.04,116.95 421.87,117.03 420.44,118.17 420.93,119.94 419.40,118.93 417.87,119.94 418.36,118.17 416.93,117.03 418.76,116.95" fill="#000000"/>
<polygon points="445.00,77.53 445.64,79.25 447.47,79.33 446.04,80.47 446.53,82.24 445.00,81.22 443.47,82.24 443.96,80.47 442.53,79.33 444.36,79.25" fill="#000000"/>
<polygon points="470.60,77.53 471.24,79.25 473.07,79.33 471.64,80.47 472.13,82.24 470.60,81.22 469.07,82.24 469.56,80.47 468.13,79.33 469.96,79.25" fill="#000000"/>
<polygon points="496.20,43.95 496.84,45.66 498.67,45.74 497.24,46.88 497.73,48.65 496.20,47.64 494.67,48.65 495.16,46.88 493.73,45.74 495.56,45.66" fill="#000000"/>
<polyline points="393.80,62.49 419.40,9.47 445.00,5.71" fill="none" stroke="#0000ff" stroke-width="0.85" stroke-linejoin="round"/>
<polygon points="393.80,59.89 394.44,61.61 396.27,61.69 394.84,62.83 395.33,64.59 393.80,63.58 392.27,64.59 392.76,62.83 391.33,61.69 393.16,61.61" fill="#0000ff"/>
<polygon points="419.40,6.87 420.04,8.59 421.87,8.67 420.44,9.81 420.93,11.57 419.40,10.56 417.87,11.57 418.36,9.81 416.93,8.67 418.76,8.59" fill="#0000ff"/>
<polygon points="445.00,3.11 445.64,4.82 447.47,4.90 446.04,6.05 446.53,7.81 445.00,6.80 443.47,7.81 443.96,6.05 442.53,4.90 444.36,4.82" fill="#0000ff"/>
<polyline points="393.80,125.00 419.40,36.34 445.00,11.80 470.60,5.71 496.20,5.71" fill="none" stroke="#ff0000" stroke-width="0.85" stroke-linejoin="round"/>
<polygon points="393.80,122.40 394.44,124.12 396.27,124.20 394.84,125.34 395.33,127.11 393.80,126.09 392.27,127.11 392.76,125.34 391.33,124.20 393.16,124.12" fill="#ff0000"/>
<polygon points="419.40,33.74 420.04,35.45 421.87,35.53 420.44,36.67 420.93,38.44 419.40,37.43 417.87,38.44 418.36,36.67 416.93,35.53 418.76,35.45" fill="#ff0000"/>
<polygon points="445.00,9.20 445.64,10.91 447.47,10.99 446.04,12.14 446.53,13.90 445.00,12.89 443.47,13.90 443.96,12.14 442.53,10.99 444.36,10.91" fill="#ff0000"/>
<polygon points="470.60,3.11 471.24,4.82 473.07,4.90 471.64,6.05 472.13,7.81 470.60,6.80 469.07,7.81 469.56,6.05 468.13,4.90 469.96,4.82" fill="#ff0000"/>
<polygon points="496.20,3.11 496.84,4.82 498.67,4.90 497.24,6.05 497.73,7.81 496.20,6.80 494.67,7.81 495.16,6.05 493.73,4.90 495.56,4.82" fill="#ff0000"/>
<polyline points="393.80,128.41 419.40,48.70 445.00,21.56 470.60,7.50 496.20,5.71" fill="none" stroke="#008000" stroke-width="0.85" stroke-linejoin="round"/>
<polygon points="393.80,125.81 394.44,127.52 396.27,127.60 394.84,128.74 395.33,130.51 393.80,129.50 392.27,130.51 392.76,128.74 391.33,127.60 393.16,127.52" fill="#008000"/>
<polygon points="419.40,46.10 420.04,47.81 421.87,47.89 420.44,49.03 420.93,50.80 419.40,49.79 417.87,50.80 418.36,49.03 416.93,47.89 418.76,47.81" fill="#008000"/>
<polygon points="445.00,18.96 445.64,20.68 447.47,20.76 446.04,21.90 446.53,23.66 445.00,22.65 443.47,23.66 443.96,21.90 442.53,20.76 444.36,20.68" fill="#008000"/>
<polygon points="470.60,4.90 471.24,6.62 473.07,6.70 471.64,7.84 472.13,9.60 470.60,8.59 469.07,9.60 469.56,7.84 468.13,6.70 469.96,6.62" fill="#008000"/>
<polygon points="496.20,3.11 496.84,4.82 498.67,4.90 497.24,6.05 497.73,7.81 496.20,6.80 494.67,7.81 495.16,6.05 493.73,4.90 495.56,4.82" fill="#008000"/>
<polyline points="393.80,128.41 419.40,51.03 445.00,28.72 470.60,11.53 496.20,5.71" fill="none" stroke="#000000" stroke-width="0.85" stroke-linejoin="round"/>
<polygon points="393.80,125.81 394.44,127.52 396.27,127.60 394.84,128.74 395.33,130.51 393.80,129.50 392.27,130.51 392.76,128.74 391.33,127.60 393.16,127.52" fill="#000000"/>
<polygon points="419.40,48.43 420.04,50.14 421.87,50.22 420.44,51.36 420.93,53.13 419.40,52.12 417.87,53.13 418.36,51.36 416.93,50.22 418.76,50.14" fill="#000000"/>
<polygon points="445.00,26.12 445.64,27.84 447.47,27.92 446.04,29.06 446.53,30.83 445.00,29.82 443.47,30.83 443.96,29.06 442.53,27.92 444.36,27.84" fill="#000000"/>
<polygon points="470.60,8.93 471.24,10.65 473.07,10.73 471.64,11.87 472.13,13.63 470.60,12.62 469.07,13.63 469.56,11.87 468.13,10.73 469.96,10.65" fill="#000000"/>
<polygon points="496.20,3.11 496.84,4.82 498.67,4.90 497.24,6.05 497.73,7.81 496.20,6.80 494.67,7.81 495.16,6.05 493.73,4.90 495.56,4.82" fill="#000000"/>
<rect x="387.50" y="3.80" width="294.80" height="294.10" fill="none" stroke="#a8a8a8" stroke-width="1.2"/>
<line x1="385.30" y1="292.30" x2="387.50" y2="292.30" stroke="#555" stroke-width="0.8"/>
<text x="383.70" y="296.10" text-anchor="end" class="tk" textLength="20.2" lengthAdjust="spacingAndGlyphs">0.68</text>
<line x1="385.30" y1="274.39" x2="387.50" y2="274.39" stroke="#555" stroke-width="0.8"/>
<text x="383.70" y="278.19" text-anchor="end" class="tk" textLength="20.2" lengthAdjust="spacingAndGlyphs">0.70</text>
<line x1="385.30" y1="256.48" x2="387.50" y2="256.48" stroke="#555" stroke-width="0.8"/>
<text x="383.70" y="260.28" text-anchor="end" class="tk" textLength="20.2" lengthAdjust="spacingAndGlyphs">0.72</text>
<line x1="385.30" y1="238.56" x2="387.50" y2="238.56" stroke="#555" stroke-width="0.8"/>
<text x="383.70" y="242.36" text-anchor="end" class="tk" textLength="20.2" lengthAdjust="spacingAndGlyphs">0.74</text>
<line x1="385.30" y1="220.65" x2="387.50" y2="220.65" stroke="#555" stroke-width="0.8"/>
<text x="383.70" y="224.45" text-anchor="end" class="tk" textLength="20.2" lengthAdjust="spacingAndGlyphs">0.76</text>
<line x1="385.30" y1="202.74" x2="387.50" y2="202.74" stroke="#555" stroke-width="0.8"/>
<text x="383.70" y="206.54" text-anchor="end" class="tk" textLength="20.2" lengthAdjust="spacingAndGlyphs">0.78</text>
<line x1="385.30" y1="184.83" x2="387.50" y2="184.83" stroke="#555" stroke-width="0.8"/>
<text x="383.70" y="188.63" text-anchor="end" class="tk" textLength="20.2" lengthAdjust="spacingAndGlyphs">0.80</text>
<line x1="385.30" y1="166.92" x2="387.50" y2="166.92" stroke="#555" stroke-width="0.8"/>
<text x="383.70" y="170.72" text-anchor="end" class="tk" textLength="20.2" lengthAdjust="spacingAndGlyphs">0.82</text>
<line x1="385.30" y1="149.00" x2="387.50" y2="149.00" stroke="#555" stroke-width="0.8"/>
<text x="383.70" y="152.80" text-anchor="end" class="tk" textLength="20.2" lengthAdjust="spacingAndGlyphs">0.84</text>
<line x1="385.30" y1="131.09" x2="387.50" y2="131.09" stroke="#555" stroke-width="0.8"/>
<text x="383.70" y="134.89" text-anchor="end" class="tk" textLength="20.2" lengthAdjust="spacingAndGlyphs">0.86</text>
<line x1="385.30" y1="113.18" x2="387.50" y2="113.18" stroke="#555" stroke-width="0.8"/>
<text x="383.70" y="116.98" text-anchor="end" class="tk" textLength="20.2" lengthAdjust="spacingAndGlyphs">0.88</text>
<line x1="385.30" y1="95.27" x2="387.50" y2="95.27" stroke="#555" stroke-width="0.8"/>
<text x="383.70" y="99.07" text-anchor="end" class="tk" textLength="20.2" lengthAdjust="spacingAndGlyphs">0.90</text>
<line x1="385.30" y1="77.36" x2="387.50" y2="77.36" stroke="#555" stroke-width="0.8"/>
<text x="383.70" y="81.16" text-anchor="end" class="tk" textLength="20.2" lengthAdjust="spacingAndGlyphs">0.92</text>
<line x1="385.30" y1="59.44" x2="387.50" y2="59.44" stroke="#555" stroke-width="0.8"/>
<text x="383.70" y="63.24" text-anchor="end" class="tk" textLength="20.2" lengthAdjust="spacingAndGlyphs">0.94</text>
<line x1="385.30" y1="41.53" x2="387.50" y2="41.53" stroke="#555" stroke-width="0.8"/>
<text x="383.70" y="45.33" text-anchor="end" class="tk" textLength="20.2" lengthAdjust="spacingAndGlyphs">0.96</text>
<line x1="385.30" y1="23.62" x2="387.50" y2="23.62" stroke="#555" stroke-width="0.8"/>
<text x="383.70" y="27.42" text-anchor="end" class="tk" textLength="20.2" lengthAdjust="spacingAndGlyphs">0.98</text>
<line x1="385.30" y1="5.71" x2="387.50" y2="5.71" stroke="#555" stroke-width="0.8"/>
<text x="383.70" y="9.51" text-anchor="end" class="tk" textLength="20.2" lengthAdjust="spacingAndGlyphs">1.00</text>
<line x1="393.80" y1="297.90" x2="393.80" y2="300.10" stroke="#555" stroke-width="0.8"/>
<text x="393.80" y="309.0" text-anchor="middle" class="tk" textLength="5.6" lengthAdjust="spacingAndGlyphs">1</text>
<line x1="419.40" y1="297.90" x2="419.40" y2="300.10" stroke="#555" stroke-width="0.8"/>
<text x="419.40" y="309.0" text-anchor="middle" class="tk" textLength="5.6" lengthAdjust="spacingAndGlyphs">2</text>
<line x1="445.00" y1="297.90" x2="445.00" y2="300.10" stroke="#555" stroke-width="0.8"/>
<text x="445.00" y="309.0" text-anchor="middle" class="tk" textLength="5.6" lengthAdjust="spacingAndGlyphs">3</text>
<line x1="470.60" y1="297.90" x2="470.60" y2="300.10" stroke="#555" stroke-width="0.8"/>
<text x="470.60" y="309.0" text-anchor="middle" class="tk" textLength="5.6" lengthAdjust="spacingAndGlyphs">4</text>
<line x1="496.20" y1="297.90" x2="496.20" y2="300.10" stroke="#555" stroke-width="0.8"/>
<text x="496.20" y="309.0" text-anchor="middle" class="tk" textLength="5.6" lengthAdjust="spacingAndGlyphs">5</text>
<line x1="521.80" y1="297.90" x2="521.80" y2="300.10" stroke="#555" stroke-width="0.8"/>
<text x="521.80" y="309.0" text-anchor="middle" class="tk" textLength="5.6" lengthAdjust="spacingAndGlyphs">6</text>
<line x1="547.40" y1="297.90" x2="547.40" y2="300.10" stroke="#555" stroke-width="0.8"/>
<text x="547.40" y="309.0" text-anchor="middle" class="tk" textLength="5.6" lengthAdjust="spacingAndGlyphs">7</text>
<line x1="573.00" y1="297.90" x2="573.00" y2="300.10" stroke="#555" stroke-width="0.8"/>
<text x="573.00" y="309.0" text-anchor="middle" class="tk" textLength="5.6" lengthAdjust="spacingAndGlyphs">8</text>
<line x1="598.60" y1="297.90" x2="598.60" y2="300.10" stroke="#555" stroke-width="0.8"/>
<text x="598.60" y="309.0" text-anchor="middle" class="tk" textLength="5.6" lengthAdjust="spacingAndGlyphs">9</text>
<line x1="624.20" y1="297.90" x2="624.20" y2="300.10" stroke="#555" stroke-width="0.8"/>
<text x="624.20" y="309.0" text-anchor="middle" class="tk" textLength="11.2" lengthAdjust="spacingAndGlyphs">10</text>
<line x1="649.80" y1="297.90" x2="649.80" y2="300.10" stroke="#555" stroke-width="0.8"/>
<text x="649.80" y="309.0" text-anchor="middle" class="tk" textLength="11.2" lengthAdjust="spacingAndGlyphs">11</text>
<line x1="675.40" y1="297.90" x2="675.40" y2="300.10" stroke="#555" stroke-width="0.8"/>
<text x="675.40" y="309.0" text-anchor="middle" class="tk" textLength="11.2" lengthAdjust="spacingAndGlyphs">12</text>
<text x="535.00" y="319.0" text-anchor="middle" class="lab">p</text>
<text transform="translate(359.30,151) rotate(-90)" text-anchor="middle" class="lab">AR</text>
<text x="535.60" y="340.10" text-anchor="middle" class="cap" style="font-size:16.80px">(b)</text>
<rect x="609.60" y="245.70" width="68.40" height="47.60" rx="1.5" fill="#fff" fill-opacity="0.85" stroke="#dcdcdc" stroke-width="0.8"/>
<line x1="612.20" y1="252.20" x2="628.60" y2="252.20" stroke="#0000ff" stroke-width="0.9"/>
<circle cx="620.50" cy="252.20" r="1.50" fill="#0000ff"/>
<text x="634.70" y="255.20" class="lg" textLength="40.3" lengthAdjust="spacingAndGlyphs">Depth = 3</text>
<line x1="612.20" y1="263.65" x2="628.60" y2="263.65" stroke="#ff0000" stroke-width="0.9"/>
<circle cx="620.50" cy="263.65" r="1.50" fill="#ff0000"/>
<text x="634.70" y="266.65" class="lg" textLength="40.3" lengthAdjust="spacingAndGlyphs">Depth = 4</text>
<line x1="612.20" y1="275.10" x2="628.60" y2="275.10" stroke="#008000" stroke-width="0.9"/>
<circle cx="620.50" cy="275.10" r="1.50" fill="#008000"/>
<text x="634.70" y="278.10" class="lg" textLength="40.3" lengthAdjust="spacingAndGlyphs">Depth = 5</text>
<line x1="612.20" y1="286.60" x2="628.60" y2="286.60" stroke="#000000" stroke-width="0.9"/>
<circle cx="620.50" cy="286.60" r="1.50" fill="#000000"/>
<text x="634.70" y="289.60" class="lg" textLength="40.3" lengthAdjust="spacingAndGlyphs">Depth = 6</text>
</svg>
</body></html>
